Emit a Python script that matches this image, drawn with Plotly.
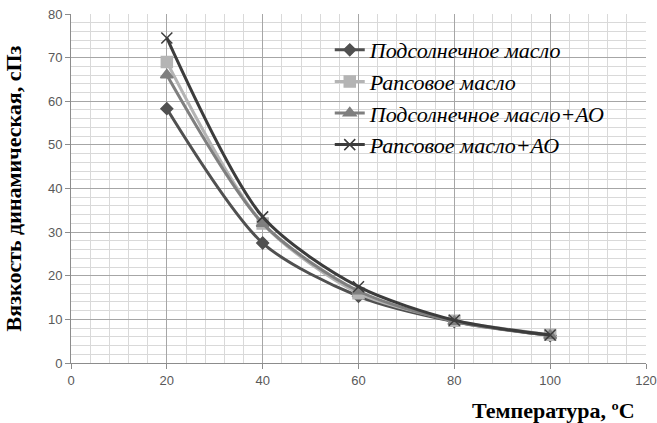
import plotly.graph_objects as go

temps = [20, 40, 60, 80, 100]
sunflower = [58.3, 27.5, 15.3, 9.5, 6.3]
rapeseed = [69.0, 32.0, 16.0, 9.7, 6.5]
sunflower_ao = [66.0, 32.0, 16.5, 9.5, 6.3]
rapeseed_ao = [74.5, 33.5, 17.5, 9.8, 6.4]

names = ["Подсолнечное масло", "Рапсовое масло", "Подсолнечное масло+АО", "Рапсовое масло+АО"]
series = [sunflower, rapeseed, sunflower_ao, rapeseed_ao]
colors = ["#505050", "#b4b4b4", "#7f7f7f", "#3c3c3c"]
symbols = ["diamond", "square", "triangle-up", "x-thin"]
msizes = [9, 11, 11, 11]

fig = go.Figure()
for n, s, c, sym, ms in zip(names, series, colors, symbols, msizes):
    fig.add_trace(go.Scatter(
        x=temps, y=s, name=n, mode="lines+markers",
        line=dict(color=c, width=3, shape="spline", smoothing=0.8),
        marker=dict(symbol=sym, size=ms, color=c, line=dict(color=c, width=1.5)),
    ))

fig.update_layout(
    width=657, height=423,
    margin=dict(l=71, r=11, t=14, b=60),
    paper_bgcolor="white", plot_bgcolor="white",
    showlegend=True,
    legend=dict(x=0.45, y=0.957, xanchor="left", yanchor="top",
                bgcolor="rgba(0,0,0,0)",
                font=dict(family="Liberation Serif", size=22, color="black", style="italic"),
                tracegroupgap=2, itemwidth=30),
    font=dict(family="Liberation Sans", size=13, color="#595959"),
    annotations=[dict(
        text="<b>Температура, ºС</b>", xref="paper", yref="paper",
        x=0.985, y=-0.135, xanchor="right", yanchor="middle", showarrow=False,
        font=dict(family="Liberation Serif", size=22, color="black"),
    )],
)
fig.update_xaxes(
    range=[0, 120], dtick=20, tick0=0,
    showgrid=True, gridcolor="#a6a6a6", gridwidth=1,
    minor=dict(dtick=4, showgrid=True, gridcolor="#d9d9d9", gridwidth=1),
    showline=True, linecolor="#8c8c8c", linewidth=1,
    ticks="outside", ticklen=5, tickcolor="#8c8c8c",
    zeroline=False, automargin=False,
)
fig.update_yaxes(
    range=[0, 80], dtick=10, tick0=0,
    showgrid=True, gridcolor="#a6a6a6", gridwidth=1,
    minor=dict(dtick=2, showgrid=True, gridcolor="#d9d9d9", gridwidth=1),
    showline=True, linecolor="#8c8c8c", linewidth=1,
    ticks="outside", ticklen=5, tickcolor="#8c8c8c",
    zeroline=False, automargin=False,
    title=dict(text="<b>Вязкость динамическая, сПз</b>", standoff=20,
               font=dict(family="Liberation Serif", size=22, color="black")),
)
fig.write_html("out.html", config={"displayModeBar": False},
               post_script="document.body.style.margin='0';")
